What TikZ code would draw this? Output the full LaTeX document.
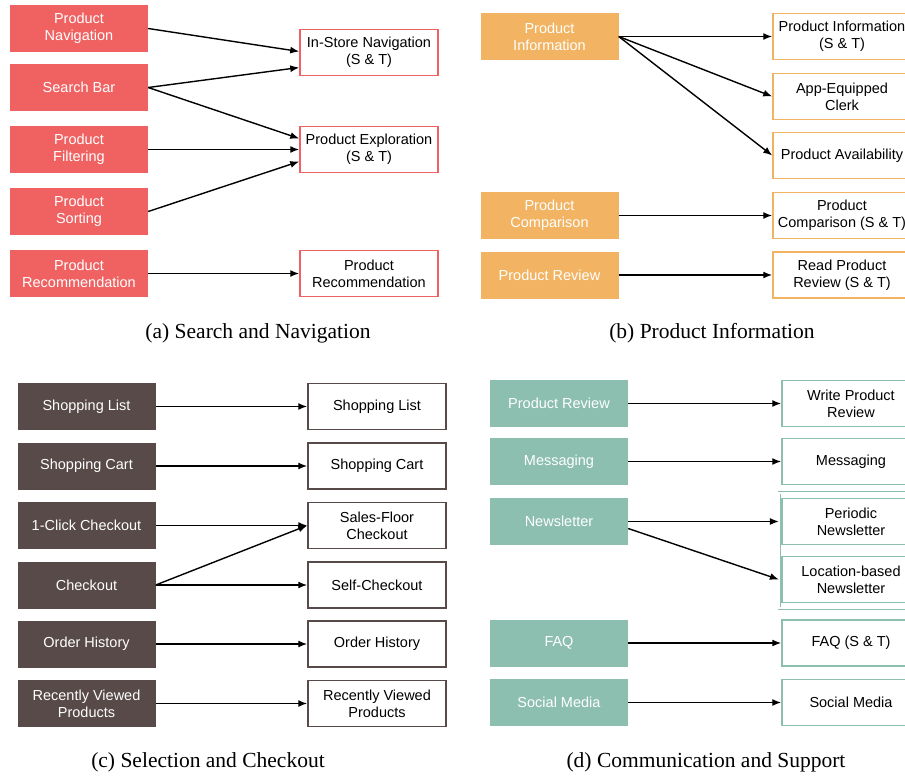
\documentclass[tikz,border=0pt]{standalone}
\usepackage{fontspec}
\setmainfont{Liberation Serif}
\setsansfont{Liberation Sans}
\usetikzlibrary{arrows.meta,fit}
\definecolor{navred}{RGB}{240,98,98}
\definecolor{inforange}{RGB}{242,180,98}
\definecolor{checkbrown}{RGB}{87,74,72}
\definecolor{commteal}{RGB}{140,191,176}
\tikzset{
  feature/.style={fill=#1, text=white, minimum width=138pt, minimum height=47pt,
    align=center, inner sep=1pt, font=\sffamily\fontsize{14.5}{17}\selectfont},
  support/.style={draw=#1, fill=white, text=black, line width=1.5pt,
    minimum width=138pt, minimum height=46pt, align=center, inner sep=1pt,
    font=\sffamily\fontsize{14.5}{17}\selectfont},
  link/.style={-{Latex[length=9pt,width=7pt]}, line width=1.4pt},
  caption/.style={font=\rmfamily\fontsize{21.5}{25}\selectfont}
}
\begin{document}
\begin{tikzpicture}[x=1pt,y=-1pt]
\useasboundingbox (0,0) rectangle (905,776);
% (a) search and navigation
\node[feature=navred] (prodnav) at (79,28.5) {Product\\Navigation};
\node[feature=navred] (searchbar) at (79,87.5) {Search Bar};
\node[feature=navred] (prodfilter) at (79,149.5) {Product\\Filtering};
\node[feature=navred] (prodsort) at (79,211.5) {Product\\Sorting};
\node[feature=navred] (prodrec) at (79,273.5) {Product\\Recommendation};
\node[support=navred] (instore) at (369,52.5) {In-Store Navigation\\(S \& T)};
\node[support=navred] (prodexpl) at (369,149.5) {Product Exploration\\(S \& T)};
\node[support=navred] (recsup) at (369,273.5) {Product\\Recommendation};
\draw[link] (prodnav.east) -- ([yshift=1pt]instore.west);
\draw[link] (searchbar.east) -- ([yshift=-15pt]instore.west);
\draw[link] (searchbar.east) -- ([yshift=11pt]prodexpl.west);
\draw[link] (prodfilter.east) -- (prodexpl.west);
\draw[link] (prodsort.east) -- ([yshift=-12pt]prodexpl.west);
\draw[link] (prodrec.east) -- (recsup.west);
\node[caption] (capa) at (258,333) {(a) Search and Navigation};
% (b) product information
\node[feature=inforange] (prodinfo) at (549.5,36.5) {Product\\Information};
\node[feature=inforange] (prodcomp) at (549.5,215.5) {Product\\Comparison};
\node[feature=inforange] (prodrev) at (549.5,275) {Product Review};
\node[support=inforange] (infosup) at (842,36.5) {Product Information\\(S \& T)};
\node[support=inforange] (clerk) at (842,96.5) {App-Equipped\\Clerk};
\node[support=inforange] (avail) at (842,155.5) {Product Availability};
\node[support=inforange] (compsup) at (842,215.5) {Product\\Comparison (S \& T)};
\node[support=inforange] (readrev) at (842,275) {Read Product\\Review (S \& T)};
\draw[link] (prodinfo.east) -- (infosup.west);
\draw[link] (prodinfo.east) -- (clerk.west);
\draw[link] (prodinfo.east) -- (avail.west);
\draw[link] (prodcomp.east) -- (compsup.west);
\draw[link] (prodrev.east) -- (readrev.west);
\node[caption] (capb) at (712,333) {(b) Product Information};
% (c) selection and checkout
\node[feature=checkbrown] (shoplist) at (86.5,406.5) {Shopping List};
\node[feature=checkbrown] (shopcart) at (86.5,466) {Shopping Cart};
\node[feature=checkbrown] (oneclick) at (86.5,525.5) {1-Click Checkout};
\node[feature=checkbrown] (checkout) at (86.5,585) {Checkout};
\node[feature=checkbrown] (orderhist) at (86.5,644) {Order History};
\node[feature=checkbrown] (recent) at (86.5,703.5) {Recently Viewed\\Products};
\node[support=checkbrown] (listsup) at (377,406.5) {Shopping List};
\node[support=checkbrown] (cartsup) at (377,466) {Shopping Cart};
\node[support=checkbrown] (salesfloor) at (377,525.5) {Sales-Floor\\Checkout};
\node[support=checkbrown] (selfcheck) at (377,585) {Self-Checkout};
\node[support=checkbrown] (histsup) at (377,644) {Order History};
\node[support=checkbrown] (recentsup) at (377,703.5) {Recently Viewed\\Products};
\draw[link] (shoplist.east) -- (listsup.west);
\draw[link] (shopcart.east) -- (cartsup.west);
\draw[link] (oneclick.east) -- (salesfloor.west);
\draw[link] (checkout.east) -- (salesfloor.west);
\draw[link] (checkout.east) -- (selfcheck.west);
\draw[link] (orderhist.east) -- (histsup.west);
\draw[link] (recent.east) -- (recentsup.west);
\node[caption] (capc) at (208,762) {(c) Selection and Checkout};
% (d) communication and support
\node[feature=commteal] (review) at (559,403.5) {Product Review};
\node[feature=commteal] (messaging) at (559,461.5) {Messaging};
\node[feature=commteal] (newsletter) at (559,521.5) {Newsletter};
\node[feature=commteal] (faq) at (559,643) {FAQ};
\node[feature=commteal] (social) at (559,702.5) {Social Media};
\node[support=commteal] (writerev) at (851,403.5) {Write Product\\Review};
\node[support=commteal] (msgsup) at (851,461.5) {Messaging};
\node[support=commteal] (periodic) at (851,521.5) {Periodic\\Newsletter};
\node[support=commteal] (locnews) at (851,579.5) {Location-based\\Newsletter};
\node[draw=commteal, double, double distance=1.8pt, line width=0.8pt,
  inner xsep=2pt, inner ysep=5pt, fit=(periodic)(locnews)] (nlgroup) {};
\node[support=commteal] (faqsup) at (851,643) {FAQ (S \& T)};
\node[support=commteal] (socialsup) at (851,702.5) {Social Media};
\draw[link] (review.east) -- (writerev.west);
\draw[link] (messaging.east) -- (msgsup.west);
\draw[link] (newsletter.east) -- (nlgroup.west |- periodic.west);
\draw[link] ([yshift=-7pt]newsletter.east) -- (nlgroup.west |- locnews.west);
\draw[link] (faq.east) -- (faqsup.west);
\draw[link] (social.east) -- (socialsup.west);
\node[caption] (capd) at (706,762) {(d) Communication and Support};
\end{tikzpicture}
\end{document}
